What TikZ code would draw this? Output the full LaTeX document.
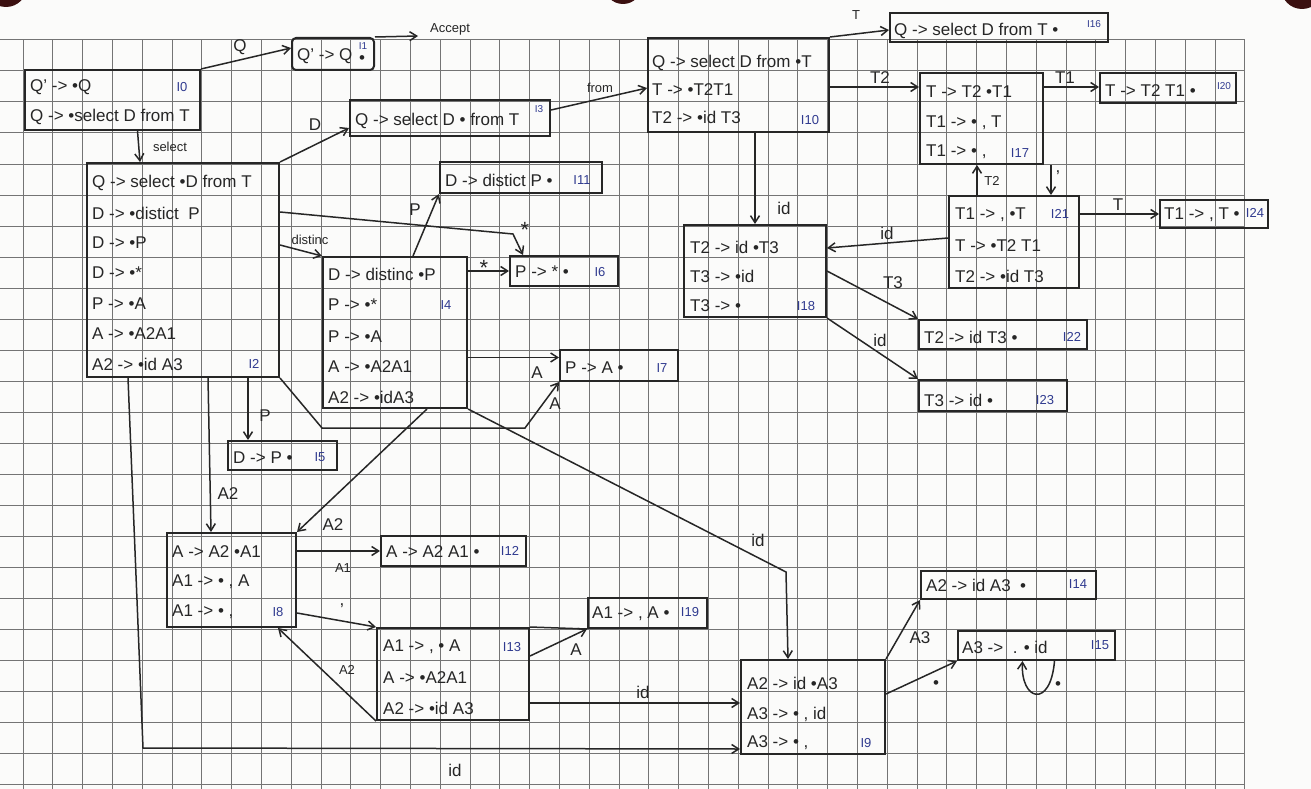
\documentclass[tikz,border=0pt]{standalone}
\usepackage{fontspec}
\setmainfont{Liberation Sans}
\usetikzlibrary{arrows.meta,fit,calc}

\definecolor{ink}{HTML}{262626}
\definecolor{gridc}{HTML}{747474}
\definecolor{tagc}{HTML}{2F3A8F}
\definecolor{paper}{HTML}{FBFBFA}
\definecolor{hole}{HTML}{3B1010}

\begin{document}
\begin{tikzpicture}[x=1pt,y=-1pt,
  box/.style={draw=ink, line width=2pt, inner sep=0pt},
  item/.style={anchor=west, inner sep=0pt, text=ink, font=\fontsize{17}{17}\selectfont},
  tag/.style={inner sep=0pt, text=tagc, font=\fontsize{13}{13}\selectfont},
  suptag/.style={tag, font=\fontsize{10}{10}\selectfont},
  lab/.style={inner sep=0pt, text=ink, font=\fontsize{17}{17}\selectfont},
  smalllab/.style={lab, font=\fontsize{13}{13}\selectfont},
  starlab/.style={lab, font=\fontsize{22}{22}\selectfont},
  edge/.style={draw=ink, line width=1.5pt, -{Straight Barb[length=7pt,width=9pt]}},
  plain/.style={draw=ink, line width=1.5pt},
]
\useasboundingbox (0,0) rectangle (1311,789);
\fill[paper] (0,0) rectangle (1311,789);
\clip (0,0) rectangle (1311,789);

% squared paper
\foreach \k in {0,...,41} \draw[gridc, line width=1pt] ({23+29.8*\k},40) -- ({23+29.8*\k},789);
\foreach \k in {0,...,24} \draw[gridc, line width=1pt] (0,{40+31*\k}) -- (1245,{40+31*\k});

% binder holes along the top edge
\fill[hole] (6,-14) circle (21);
\fill[hole] (623,-15) circle (19);
\fill[hole] (1302,-12) circle (21);

% ---------- states ----------
% I0
\node[box, fit={(25,70)(200,130)}] (I0) {};
\node[item] (I0r1) at (30,87) {Q' -> •Q};
\node[item] (I0r2) at (30,117) {Q -> •select D from T};
\node[tag] (I0t) at (182,87) {I0};
% I1
\node[box, rounded corners=4pt, fit={(292,38)(374,70)}] (I1) {};
\node[item] (I1r1) at (297,56) {Q' -> Q};
\node[lab] (I1d) at (362,60) {•};
\node[suptag] (I1t) at (363,46) {I1};
% I3
\node[box, fit={(350,100)(550,136)}] (I3) {};
\node[item] (I3r1) at (355,121) {Q -> select D • from T};
\node[suptag] (I3t) at (539,109) {I3};
% I2
\node[box, fit={(87,163)(279,377)}] (I2) {};
\node[item] (I2r1) at (92,183) {Q -> select •D from T};
\node[item] (I2r2) at (92,213) {D -> •distict \ P};
\node[item] (I2r3) at (92,243) {D -> •P};
\node[item] (I2r4) at (92,273) {D -> •*};
\node[item] (I2r5) at (92,304) {P -> •A};
\node[item] (I2r6) at (92,334) {A -> •A2A1};
\node[item] (I2r7) at (92,364) {A2 -> •id A3};
\node[tag] (I2t) at (254,364) {I2};
% I4
\node[box, fit={(323,257)(467,408)}] (I4) {};
\node[item] (I4r1) at (328,274) {D -> distinc •P};
\node[item] (I4r2) at (328,305) {P -> •*};
\node[item] (I4r3) at (328,337) {P -> •A};
\node[item] (I4r4) at (328,367) {A -> •A2A1};
\node[item] (I4r5) at (328,397) {A2 -> •idA3};
\node[tag] (I4t) at (446,305) {I4};
% I11
\node[box, fit={(440,162)(602,193)}] (I11) {};
\node[item] (I11r1) at (445,180) {D -> distict P •};
\node[tag] (I11t) at (582,180) {I11};
% I6
\node[box, fit={(510,256)(618,286)}] (I6) {};
\node[item] (I6r1) at (515,272) {P -> * •};
\node[tag] (I6t) at (600,272) {I6};
% I7
\node[box, fit={(560,350)(678,381)}] (I7) {};
\node[item] (I7r1) at (565,368) {P -> A •};
\node[tag] (I7t) at (662,368) {I7};
% I5
\node[box, fit={(228,441)(337,470)}] (I5) {};
\node[item] (I5r1) at (233,458) {D -> P •};
\node[tag] (I5t) at (320,457) {I5};
% I8
\node[box, fit={(167,533)(296,627)}] (I8) {};
\node[item] (I8r1) at (172,552) {A -> A2 •A1};
\node[item] (I8r2) at (172,582) {A1 -> • , A};
\node[item] (I8r3) at (172,612) {A1 -> • ,};
\node[tag] (I8t) at (278,612) {I8};
% I12
\node[box, fit={(381,536)(526,566)}] (I12) {};
\node[item] (I12r1) at (386,552) {A -> A2 A1 •};
\node[tag] (I12t) at (510,551) {I12};
% I13
\node[box, fit={(377,628)(529,720)}] (I13) {};
\node[item] (I13r1) at (383,647) {A1 -> , • A};
\node[item] (I13r2) at (383,678) {A -> •A2A1};
\node[item] (I13r3) at (383,708) {A2 -> •id A3};
\node[tag] (I13t) at (512,647) {I13};
% I19
\node[box, fit={(588,598)(707,628)}] (I19) {};
\node[item] (I19r1) at (592,614) {A1 -> , A •};
\node[tag] (I19t) at (690,612) {I19};
% I9
\node[box, fit={(741,660)(885,754)}] (I9) {};
\node[item] (I9r1) at (747,683) {A2 -> id •A3};
\node[item] (I9r2) at (747,714) {A3 -> • , id};
\node[item] (I9r3) at (747,743) {A3 -> • ,};
\node[tag] (I9t) at (866,743) {I9};
% I14
\node[box, fit={(921,571)(1096,599)}] (I14) {};
\node[item] (I14r1) at (926,585) {A2 -> id A3 \ •};
\node[tag] (I14t) at (1078,584) {I14};
% I15
\node[box, fit={(958,631)(1115,660)}] (I15) {};
\node[item] (I15r1) at (962,647) {A3 -> \ . • id};
\node[tag] (I15t) at (1100,645) {I15};
% I10
\node[box, fit={(648,38)(829,132)}] (I10) {};
\node[item] (I10r1) at (652,63) {Q -> select D from •T};
\node[item] (I10r2) at (652,90) {T -> •T2T1};
\node[item] (I10r3) at (652,117) {T2 -> •id T3};
\node[tag] (I10t) at (810,120) {I10};
% I16
\node[box, fit={(890,13)(1108,42)}] (I16) {};
\node[item] (I16r1) at (894,31) {Q -> select D from T •};
\node[suptag] (I16t) at (1094,24) {I16};
% I17
\node[box, fit={(920,73)(1043,164)}] (I17) {};
\node[item] (I17r1) at (926,92) {T -> T2 •T1};
\node[item] (I17r2) at (926,123) {T1 -> • , T};
\node[item] (I17r3) at (926,152) {T1 -> • ,};
\node[tag] (I17t) at (1020,153) {I17};
% I20
\node[box, fit={(1100,73)(1236,103)}] (I20) {};
\node[item] (I20r1) at (1105,91) {T -> T2 T1 •};
\node[suptag] (I20t) at (1224,86) {I20};
% I21
\node[box, fit={(949,196)(1079,288)}] (I21) {};
\node[item] (I21r1) at (955,215) {T1 -> , •T};
\node[item] (I21r2) at (955,246) {T -> •T2 T1};
\node[item] (I21r3) at (955,276) {T2 -> •id T3};
\node[tag] (I21t) at (1060,214) {I21};
% I24
\node[box, fit={(1160,200)(1268,228)}] (I24) {};
\node[item] (I24r1) at (1164,215) {T1 -> , T •};
\node[tag] (I24t) at (1255,213) {I24};
% I18
\node[box, fit={(684,225)(826,317)}] (I18) {};
\node[item] (I18r1) at (690,247) {T2 -> id •T3};
\node[item] (I18r2) at (690,276) {T3 -> •id};
\node[item] (I18r3) at (690,306) {T3 -> •};
\node[tag] (I18t) at (806,306) {I18};
% I22
\node[box, fit={(919,320)(1087,349)}] (I22) {};
\node[item] (I22r1) at (924,337) {T2 -> id T3 •};
\node[tag] (I22t) at (1072,337) {I22};
% I23
\node[box, fit={(919,380)(1067,411)}] (I23) {};
\node[item] (I23r1) at (924,400) {T3 -> id •};
\node[tag] (I23t) at (1045,400) {I23};

% ---------- transitions ----------
\coordinate (acc) at (418,36);
\coordinate (w6) at (513,234);
\coordinate (w7a) at (322,428);
\coordinate (w7b) at (525,428);
\coordinate (w9a) at (143,748);
\coordinate (w9b) at (786,572);
\coordinate (t7) at ([yshift=8pt]I7.west);
\coordinate (t9) at ([yshift=4pt]I9.west);
\coordinate (t17) at ([yshift=-15pt]I17.north west);
\coordinate (t20) at ([yshift=-15pt]I20.north west);
\coordinate (t21) at ([xshift=-29pt]I21.north east);
\coordinate (s21) at ([xshift=29pt]I21.north west);

\draw[edge] (I0.north east) -- ([yshift=6pt]I1.west);
\draw[edge] (I1.north east) -- (acc);
\draw[edge] ([xshift=25pt]I0.south) -- ([xshift=-43pt]I2.north);
\draw[edge] (I2.north east) -- ([yshift=-10pt]I3.west);
\draw[edge] ([yshift=8pt]I3.east) -- ([yshift=-3pt]I10.west);
\draw[edge] ([yshift=25pt]I2.east) -- (I4.north west);
\draw[edge] ([yshift=58pt]I2.east) -- (w6) -- ([xshift=-41pt]I6.north);
\draw[edge] ([xshift=65pt]I2.south) -- ([xshift=-34.5pt]I5.north);
\draw[edge] ([xshift=25pt]I2.south) -- ([xshift=-20.5pt]I8.north);
\draw[edge] (I2.south east) -- (w7a) -- (w7b) -- (I7.south west);
\draw[edge] ([xshift=-55pt]I2.south) -- (w9a) -- ([yshift=6pt]I9.south west);
\draw[edge] ([xshift=18pt]I4.north) -- (I11.south west);
\draw[edge] (I4.east |- I6.west) -- (I6.west);
\draw[edge] (I4.east |- t7) -- (t7);
\draw[edge] ([xshift=32pt]I4.south) -- (I8.north east);
\draw[edge] (I4.south east) -- (w9b) -- ([xshift=-25pt]I9.north);
\draw[edge] (I8.east |- I12.west) -- (I12.west);
\draw[edge] ([yshift=15pt]I8.south east) -- (I13.north west);
\draw[plain] (I13.north east) -- (I19.south west);
\draw[edge] ([yshift=-29pt]I13.north east) -- (I19.south west);
\draw[edge] (I13.south west) -- ([xshift=46.5pt]I8.south);
\draw[edge] (I13.east |- t9) -- (t9);
\draw[edge] (I9.north east) -- (I14.south west);
\draw[edge] ([yshift=-35pt]I9.north east) -- (I15.south west);
\draw[edge] ([xshift=18pt]I15.south) .. controls ([xshift=14pt,yshift=-48pt]I15.south) and ([xshift=-16pt,yshift=-40pt]I15.south) .. ([xshift=-14pt]I15.south);
\draw[edge] (I10.north east) -- ([yshift=-2.5pt]I16.west);
\draw[edge] (I10.east |- t17) -- (t17);
\draw[edge] (I10.south -| I18.north) -- (I18.north);
\draw[edge] (I17.east |- t20) -- (t20);
\draw[edge] (I17.south -| t21) -- (t21);
\draw[edge] (s21) -- (I17.south -| s21);
\draw[edge] (I21.east |- I24.west) -- (I24.west);
\draw[edge] ([yshift=4pt]I21.west) -- ([yshift=-24pt]I18.north east);
\draw[edge] (I18.east) -- (I22.north west);
\draw[edge] (I18.south east) -- (I23.north west);

% ---------- transition symbols ----------
\node[lab] (lQ) at (240,47) {Q};
\node[smalllab] (lacc) at (450,29) {Accept};
\node[smalllab] (lsel) at (170,147) {select};
\node[lab] (lD) at (315,125) {D};
\node[smalllab] (lfrom) at (600,88) {from};
\node[smalllab] (ldist) at (310,240) {distinc};
\node[starlab] (ls1) at (525,230) {*};
\node[lab] (lP1) at (265,416) {P};
\node[lab] (lA2a) at (228,494) {A2};
\node[lab] (lA1) at (555,404) {A};
\node[lab] (lid1) at (455,770) {id};
\node[lab] (lP2) at (415,210) {P};
\node[starlab] (ls2) at (484,268) {*};
\node[lab] (lA2) at (537,373) {A};
\node[lab] (lA2b) at (333,525) {A2};
\node[lab] (lid2) at (758,540) {id};
\node[smalllab] (lA1b) at (343,568) {A1};
\node[lab] (lcom1) at (342,606) {,};
\node[lab] (lA3) at (576,650) {A};
\node[smalllab] (lA2c) at (347,670) {A2};
\node[lab] (lid3) at (643,692) {id};
\node[lab] (lA3b) at (920,638) {A3};
\node[lab] (ldot1) at (936,685) {•};
\node[lab] (ldot2) at (1058,686) {•};
\node[smalllab] (lT1) at (856,15) {T};
\node[lab] (lT2) at (880,78) {T2};
\node[lab] (lid4) at (784,208) {id};
\node[lab] (lT1b) at (1065,78) {T1};
\node[lab] (lcom2) at (1058,173) {,};
\node[smalllab] (lT2b) at (992,181) {T2};
\node[lab] (lT3) at (1118,205) {T};
\node[lab] (lid5) at (887,233) {id};
\node[lab] (lT3b) at (893,283) {T3};
\node[lab] (lid6) at (880,340) {id};
\end{tikzpicture}
\end{document}
